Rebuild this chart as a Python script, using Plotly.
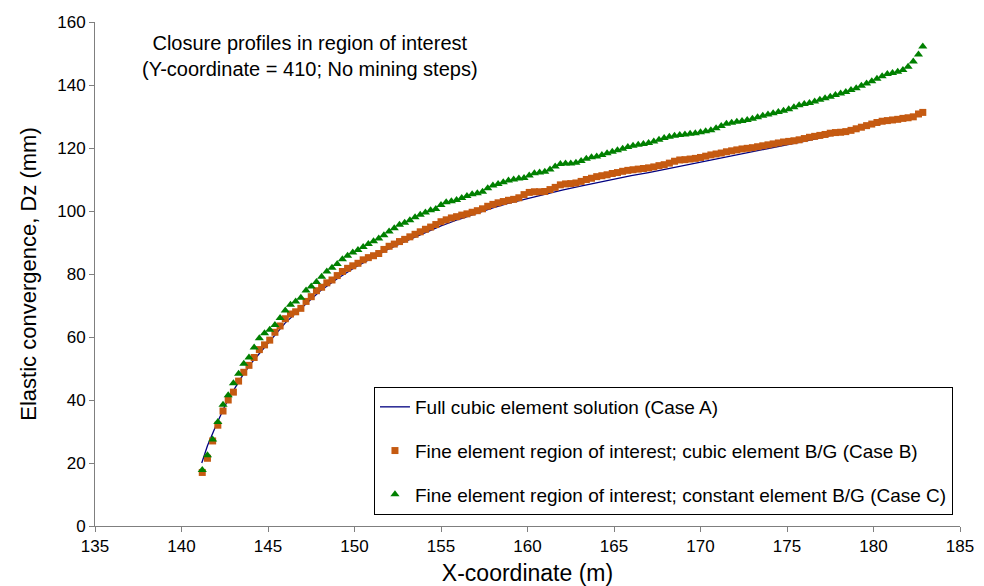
import plotly.graph_objects as go

# Case A: full cubic element solution (smooth profile)
case_a_x = [141.17, 141.5, 142.0, 142.5, 143.0, 143.5, 144.0, 145.0, 146.0, 147.0,
            148.0, 149.0, 150.0, 151.0, 152.0, 153.0, 154.0, 155.0, 156.0, 157.0,
            158.0, 159.0, 160.0, 161.0, 162.0, 163.0, 164.0, 165.0, 166.0, 167.0,
            168.0, 169.0, 170.0, 171.0, 172.0, 173.0, 174.0, 175.0, 176.0, 177.0,
            178.0, 179.0, 180.0, 181.0, 182.0, 182.8]
case_a_dz = [20.0, 25.5, 32.0, 38.0, 43.0, 47.5, 51.5, 58.0, 64.5, 69.5,
             74.5, 78.5, 82.0, 85.0, 88.0, 90.5, 93.0, 95.3, 97.3, 99.2,
             101.0, 102.6, 104.0, 105.4, 106.6, 107.8, 109.0, 110.1, 111.2, 112.2,
             113.3, 114.3, 115.3, 116.4, 117.5, 118.6, 119.7, 120.9, 122.1, 123.3,
             124.6, 125.9, 127.2, 128.4, 129.7, 130.8]

# Collocation positions of the fine elements in the region of interest (m)
fine_x = [
    141.2, 141.5, 141.8, 142.1, 142.4, 142.7, 143.0, 143.3, 143.6, 143.9,
    144.2, 144.5, 144.8, 145.1, 145.4, 145.7, 146.0, 146.3, 146.6, 146.9,
    147.2, 147.5, 147.8, 148.1, 148.4, 148.7, 149.0, 149.3, 149.6, 149.9,
    150.2, 150.5, 150.8, 151.1, 151.4, 151.7, 152.0, 152.3, 152.6, 152.9,
    153.2, 153.5, 153.8, 154.1, 154.4, 154.7, 155.0, 155.3, 155.6, 155.9,
    156.2, 156.5, 156.8, 157.1, 157.4, 157.7, 158.0, 158.3, 158.6, 158.9,
    159.2, 159.5, 159.8, 160.1, 160.4, 160.7, 161.0, 161.3, 161.6, 161.9,
    162.2, 162.5, 162.8, 163.1, 163.4, 163.7, 164.0, 164.3, 164.6, 164.9,
    165.2, 165.5, 165.8, 166.1, 166.4, 166.7, 167.0, 167.3, 167.6, 167.9,
    168.2, 168.5, 168.8, 169.1, 169.4, 169.7, 170.0, 170.3, 170.6, 170.9,
    171.2, 171.5, 171.8, 172.1, 172.4, 172.7, 173.0, 173.3, 173.6, 173.9,
    174.2, 174.5, 174.8, 175.1, 175.4, 175.7, 176.0, 176.3, 176.6, 176.9,
    177.2, 177.5, 177.8, 178.1, 178.4, 178.7, 179.0, 179.3, 179.6, 179.9,
    180.2, 180.5, 180.8, 181.1, 181.4, 181.7, 182.0, 182.3, 182.6, 182.85,
]

# Case B: fine elements, cubic element background
case_b_dz = [
    17.0, 21.5, 27.0, 32.0, 36.5, 40.0, 42.5, 46.0, 48.8, 51.0,
    53.5, 56.0, 57.5, 59.0, 61.5, 63.5, 65.8, 67.3, 68.0, 69.1,
    71.3, 72.8, 74.7, 75.8, 77.2, 78.1, 79.5, 80.8, 81.8, 82.6,
    83.4, 84.5, 85.2, 85.8, 86.5, 87.8, 88.8, 89.5, 90.3, 91.0,
    91.8, 92.6, 93.4, 94.2, 94.9, 95.7, 96.6, 97.2, 97.8, 98.2,
    98.7, 99.1, 99.6, 100.1, 100.7, 101.5, 102.1, 102.6, 103.0, 103.4,
    103.7, 104.2, 105.2, 105.9, 106.1, 106.1, 106.2, 106.8, 107.5, 108.3,
    108.6, 108.7, 108.9, 109.4, 110.0, 110.4, 110.9, 111.2, 111.5, 111.9,
    112.2, 112.6, 112.9, 113.1, 113.3, 113.5, 113.7, 114.0, 114.4, 114.7,
    115.2, 115.8, 116.2, 116.3, 116.5, 116.7, 117.0, 117.4, 117.8, 118.1,
    118.4, 118.8, 119.1, 119.4, 119.7, 119.9, 120.1, 120.4, 120.7, 121.0,
    121.3, 121.6, 121.9, 122.1, 122.3, 122.6, 123.0, 123.4, 123.7, 124.0,
    124.3, 124.7, 124.9, 125.0, 125.2, 125.6, 126.1, 126.6, 127.1, 127.6,
    128.1, 128.5, 128.7, 128.9, 129.1, 129.4, 129.6, 129.9, 130.8, 131.3,
]

# Case C: fine elements, constant element background
case_c_dz = [
    17.8, 22.5, 27.5, 33.0, 38.5, 41.5, 45.3, 48.3, 51.5, 53.5,
    56.7, 59.6, 61.2, 62.3, 63.8, 66.0, 68.4, 70.2, 71.3, 72.5,
    74.8, 76.0, 77.5, 79.1, 80.8, 82.0, 83.2, 84.7, 85.8, 86.8,
    87.6, 88.6, 89.5, 90.4, 91.3, 92.3, 93.5, 94.5, 95.6, 96.3,
    97.1, 98.0, 98.8, 99.5, 100.2, 100.6, 101.9, 102.8, 103.1, 103.5,
    104.1, 104.8, 105.3, 105.6, 106.1, 107.2, 108.1, 108.6, 109.1, 109.7,
    110.0, 110.3, 110.5, 111.3, 112.0, 112.2, 112.5, 113.2, 114.1, 114.9,
    115.1, 115.1, 115.3, 115.9, 116.6, 117.1, 117.3, 117.8, 118.3, 118.8,
    119.3, 119.8, 120.3, 120.7, 121.0, 121.3, 121.6, 122.1, 122.6, 123.2,
    123.6, 123.9, 124.1, 124.3, 124.5, 124.7, 125.0, 125.3, 125.6, 126.3,
    127.0, 127.7, 128.0, 128.3, 128.6, 128.9, 129.3, 129.8, 130.2, 130.6,
    131.0, 131.4, 131.8, 132.3, 132.9, 133.6, 134.0, 134.3, 134.8, 135.3,
    135.8, 136.3, 136.8, 137.3, 137.8, 138.4, 139.0, 139.8, 140.5, 141.2,
    142.0, 142.8, 143.5, 143.8, 144.2, 144.8, 145.8, 147.5, 149.7, 152.2,
]

x_ticks = [135, 140, 145, 150, 155, 160, 165, 170, 175, 180, 185]
y_ticks = [0, 20, 40, 60, 80, 100, 120, 140, 160]

FONT = "Liberation Sans, Arial, sans-serif"
AXIS_GREY = "#7f7f7f"

fig = go.Figure()

fig.add_trace(go.Scatter(
    x=case_a_x, y=case_a_dz, mode="lines",
    name="Full cubic element solution (Case A)",
    line=dict(color="#000080", width=1.3),
    legendgroup="a",
))
fig.add_trace(go.Scatter(
    x=fine_x, y=case_b_dz, mode="markers",
    name="Fine element region of interest; cubic element B/G (Case B)",
    marker=dict(symbol="square", size=7, color="#C55A11"),
    legendgroup="b",
))
fig.add_trace(go.Scatter(
    x=fine_x, y=case_c_dz, mode="markers",
    name="Fine element region of interest; constant element B/G (Case C)",
    marker=dict(symbol="triangle-up", size=8, color="#008000"),
    legendgroup="c",
))

fig.add_annotation(
    x=0.2486, y=0.9325, xref="paper", yref="paper",
    xanchor="center", yanchor="middle",
    text="Closure profiles in region of interest<br>(Y-coordinate = 410; No mining steps)",
    showarrow=False, align="center",
    font=dict(family=FONT, size=20, color="black"),
)

fig.update_layout(
    width=984, height=586,
    margin=dict(l=95, r=24, t=22, b=60),
    paper_bgcolor="white", plot_bgcolor="white",
    font=dict(family=FONT, size=17, color="black"),
    showlegend=True,
    legend=dict(
        x=0.3225, y=0.2758, xanchor="left", yanchor="top",
        bgcolor="white", bordercolor="black", borderwidth=1,
        font=dict(family=FONT, size=19, color="black"),
        tracegroupgap=16, traceorder="grouped",
    ),
    xaxis=dict(
        range=[135, 185], tickvals=x_ticks, ticks="outside", ticklen=5,
        tickcolor=AXIS_GREY, showline=True, linecolor=AXIS_GREY, linewidth=1,
        showgrid=False, zeroline=False, automargin=False,
        tickfont=dict(family=FONT, size=17),
        title=dict(text="X-coordinate (m)", font=dict(family=FONT, size=23), standoff=10),
    ),
    yaxis=dict(
        range=[0, 160], tickvals=y_ticks, ticks="outside", ticklen=5,
        tickcolor=AXIS_GREY, showline=True, linecolor=AXIS_GREY, linewidth=1,
        showgrid=False, zeroline=False, automargin=False,
        tickfont=dict(family=FONT, size=17),
        title=dict(text="Elastic convergence, Dz (mm)", font=dict(family=FONT, size=22), standoff=14),
    ),
)

fig.write_html("out.html")
